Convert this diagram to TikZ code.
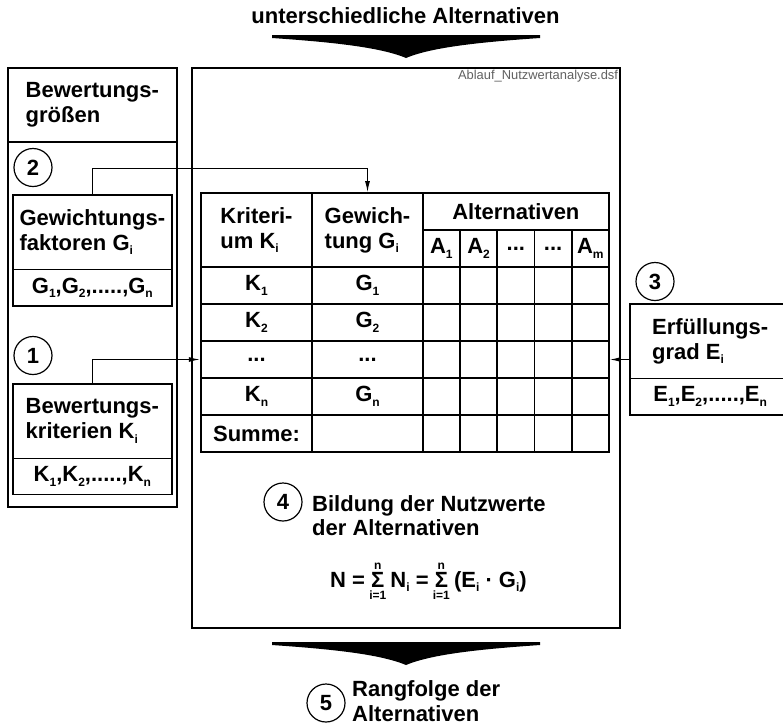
\documentclass[tikz,border=0pt]{standalone}
\usepackage{fontspec}
\setmainfont{Liberation Sans}
\usetikzlibrary{arrows.meta}

% small lowered index, e.g. K_1
\newcommand\ix[1]{\raisebox{-4.5pt}{\fontsize{12}{12}\selectfont #1}}
% sum sign with limits n (above) and i=1 (below)
\newcommand\sumop{\mbox{\sbox0{Σ}%
  \rlap{\makebox[\wd0][c]{\raisebox{18pt}{\fontsize{12}{12}\selectfont n}}}%
  \rlap{\makebox[\wd0][c]{\raisebox{-12pt}{\fontsize{12}{12}\selectfont i=1}}}%
  \usebox0}}
\newcommand\tdots{...}

\tikzset{
  frame/.style={draw, line width=1.7pt, inner sep=0pt},
  txt/.style={font=\fontsize{22}{25}\selectfont\bfseries, align=left, inner sep=0pt},
  part/.style={frame, txt, anchor=north west},
  cell/.style={draw, line width=1.8pt, inner sep=0pt,
    font=\fontsize{22}{25}\selectfont\bfseries, align=left},
  num/.style={circle, draw, line width=1.2pt, minimum size=38pt, inner sep=0pt,
    font=\fontsize{22}{22}\selectfont\bfseries},
  link/.style={line width=1.1pt, -{Latex[length=11pt,width=5pt]}},
  bigarrow/.pic={
    \fill (-134,0) -- (134,0) -- (134,3)
      .. controls (76,7) and (26,12) .. (0,23)
      .. controls (-26,12) and (-76,7) .. (-134,3) -- cycle;
  }
}

\begin{document}
\begin{tikzpicture}[x=1pt, y=-1pt]
\useasboundingbox (0,0) rectangle (783,726);
\fill[white] (0,0) rectangle (783,726);

% input on top
\node[txt] (alts) at (405.5,16) {unterschiedliche Alternativen};
\pic at (406,35) {bigarrow};

% left panel: evaluation quantities
\node[frame, minimum width=169, minimum height=439, anchor=north west] (panel) at (7,67) {};
\node[part, minimum width=169, minimum height=74] (panelhead) at (7,67) {Bewertungs-\\größen};

\node[num] (n2) at (33,167.5) {2};
\node[part, minimum width=159, minimum height=74.5] (gw) at (12,194) {Gewichtungs-\\faktoren G\ix{i}};
\node[part, minimum width=159, minimum height=36.5] (gwv) at (12,268.5) {G\ix{1},G\ix{2},.....,G\ix{n}};

\node[num] (n1) at (33,355.5) {1};
\node[part, minimum width=159, minimum height=74.5] (kr) at (12,383) {Bewertungs-\\kriterien K\ix{i}};
\node[part, minimum width=159, minimum height=36] (krv) at (12,457.5) {K\ix{1},K\ix{2},.....,K\ix{n}};

% main frame
\node[frame, minimum width=428, minimum height=560, anchor=north west] (main) at (191,67) {};
\node[anchor=north east, inner sep=0pt, font=\fontsize{12.9}{13}\selectfont, text=black!62]
  (file) at ([xshift=-2.5pt, yshift=-2.5pt]main.north east) {Ablauf\_Nutzwertanalyse.dsf};

% evaluation table: header
\node[cell, minimum width=111.6, minimum height=74] (hk) at (256.5,230) {Kriteri-\\um K\ix{i}};
\node[cell, minimum width=110.4, minimum height=74] (hg) at (367.5,230) {Gewich-\\tung G\ix{i}};
\node[cell, minimum width=186.3, minimum height=37] (ha) at (515.85,211.5) {Alternativen};
\foreach \lab [count=\c] in {A\ix{1},A\ix{2},\tdots,\tdots,A\ix{m}}
  \node[cell, minimum width=37.26, minimum height=37] (h\c) at ({441.33+37.26*(\c-1)},248.5) {\lab};

% evaluation table: body
\foreach \k/\g [count=\ri] in {K\ix{1}/G\ix{1}, K\ix{2}/G\ix{2}, \tdots/\tdots, K\ix{n}/G\ix{n}, Summe:/{}} {
  \node[cell, minimum width=111.6, minimum height=37] (k\ri) at (256.5,{285.5+37*(\ri-1)}) {\k};
  \node[cell, minimum width=110.4, minimum height=37] (g\ri) at (367.5,{285.5+37*(\ri-1)}) {\g};
  \foreach \c in {1,...,5}
    \node[cell, minimum width=37.26, minimum height=37] (v\ri\c)
      at ({441.33+37.26*(\c-1)},{285.5+37*(\ri-1)}) {};
}

% degree of fulfilment
\node[num] (n3) at (655,281.5) {3};
\node[part, minimum width=160, minimum height=74.5] (ef) at (629.3,303) {Erfüllungs-\\grad E\ix{i}};
\node[part, minimum width=160, minimum height=36.5] (efv) at (629.3,377.5) {E\ix{1},E\ix{2},.....,E\ix{n}};

% connectors
\draw[link] (gw.north) -- ++(0,-25.5) -| (hg.north);
\draw[link] (kr.north) |- (k3.west);
\draw[link] (v35.east -| ef.west) -- (v35.east);

% utility values
\node[num] (n4) at (283,502) {4};
\node[txt, font=\fontsize{22}{23.5}\selectfont\bfseries, anchor=north west] (t4) at (312,495.7)
  {Bildung der Nutzwerte\\der Alternativen};
\node[txt, anchor=base west] (sum) at (330,587) {N = \sumop\ N\ix{i} = \sumop\ (E\ix{i} · G\ix{i})};

% result
\pic at (406,642) {bigarrow};
\node[num] (n5) at (326,703) {5};
\node[txt, anchor=west] (t5) at (352,701) {Rangfolge der\\Alternativen};
\end{tikzpicture}
\end{document}
